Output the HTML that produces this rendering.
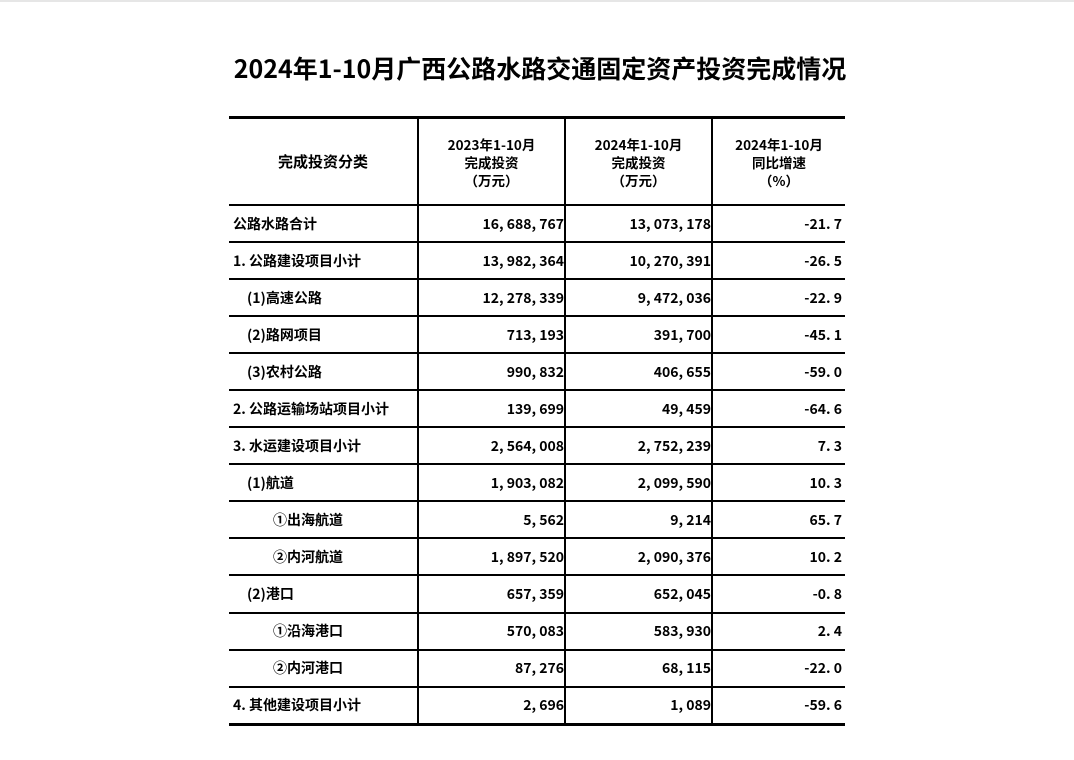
<!DOCTYPE html>
<html><head><meta charset="utf-8"><style>
body{margin:0;width:1074px;height:760px;background:#fff;position:relative;overflow:hidden;font-family:"Liberation Sans","Noto Sans CJK SC",sans-serif;}
.top{position:absolute;left:0;top:0;width:1074px;height:2px;background:#e6e6e6}
h1{position:absolute;left:3px;width:1074px;top:50px;margin:0;text-align:center;font-size:25px;font-weight:bold;font-family:"Noto Sans CJK SC",sans-serif;line-height:36px;color:#000}
table{position:absolute;left:229px;top:116px;border-collapse:collapse;font-family:"WenQuanYi Zen Hei","Noto Sans CJK SC",sans-serif;font-weight:bold;font-size:14px;color:#000}
td{border:2px solid #000;height:35.05px;padding:0;line-height:16px}
tr.h td{height:85px;text-align:center;font-size:13.5px;line-height:18px}
tr.h td.c1{font-size:15px}
table{border-top:3px solid #000;border-bottom:3px solid #000;border-left:0;border-right:0}
td:first-child{border-left:none}
td:last-child{border-right:none}
td.n{text-align:right;padding-right:0}
td.p{text-align:right;padding-right:3px}
td.l{text-align:left;padding-left:4px}
.i1{padding-left:18px!important}.i2{padding-left:44px!important}
</style></head><body>
<div class="top"></div>
<h1>2024年1-10月广西公路水路交通固定资产投资完成情况</h1>
<table>
<colgroup><col style="width:189px"><col style="width:147px"><col style="width:147px"><col style="width:133px"></colgroup>
<tr class="h"><td class="c1">完成投资分类</td><td>2023年1-10月<br>完成投资<br>（万元）</td><td>2024年1-10月<br>完成投资<br>（万元）</td><td>2024年1-10月<br>同比增速<br>（%）</td></tr>
<tr><td class="l">公路水路合计</td><td class="n">16, 688, 767</td><td class="n">13, 073, 178</td><td class="p">-21. 7</td></tr>
<tr><td class="l">1. 公路建设项目小计</td><td class="n">13, 982, 364</td><td class="n">10, 270, 391</td><td class="p">-26. 5</td></tr>
<tr><td class="l i1">(1)高速公路</td><td class="n">12, 278, 339</td><td class="n">9, 472, 036</td><td class="p">-22. 9</td></tr>
<tr><td class="l i1">(2)路网项目</td><td class="n">713, 193</td><td class="n">391, 700</td><td class="p">-45. 1</td></tr>
<tr><td class="l i1">(3)农村公路</td><td class="n">990, 832</td><td class="n">406, 655</td><td class="p">-59. 0</td></tr>
<tr><td class="l">2. 公路运输场站项目小计</td><td class="n">139, 699</td><td class="n">49, 459</td><td class="p">-64. 6</td></tr>
<tr><td class="l">3. 水运建设项目小计</td><td class="n">2, 564, 008</td><td class="n">2, 752, 239</td><td class="p">7. 3</td></tr>
<tr><td class="l i1">(1)航道</td><td class="n">1, 903, 082</td><td class="n">2, 099, 590</td><td class="p">10. 3</td></tr>
<tr><td class="l i2">①出海航道</td><td class="n">5, 562</td><td class="n">9, 214</td><td class="p">65. 7</td></tr>
<tr><td class="l i2">②内河航道</td><td class="n">1, 897, 520</td><td class="n">2, 090, 376</td><td class="p">10. 2</td></tr>
<tr><td class="l i1">(2)港口</td><td class="n">657, 359</td><td class="n">652, 045</td><td class="p">-0. 8</td></tr>
<tr><td class="l i2">①沿海港口</td><td class="n">570, 083</td><td class="n">583, 930</td><td class="p">2. 4</td></tr>
<tr><td class="l i2">②内河港口</td><td class="n">87, 276</td><td class="n">68, 115</td><td class="p">-22. 0</td></tr>
<tr><td class="l">4. 其他建设项目小计</td><td class="n">2, 696</td><td class="n">1, 089</td><td class="p">-59. 6</td></tr>
</table>
</body></html>
